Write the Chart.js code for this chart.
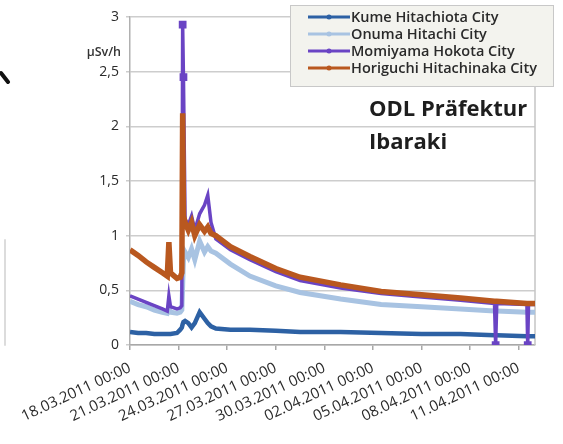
<!DOCTYPE html>
<html>
<head>
<meta charset="utf-8">
<script src="https://cdn.jsdelivr.net/npm/chart.js@4/dist/chart.umd.min.js"></script>
<style>
    html, body { margin: 0; padding: 0; background: #fff; }
    #wrap { width: 563px; height: 444px; }
</style>
</head>
<body>
<div id="wrap"><canvas id="odlChart" width="563" height="444"></canvas></div>
<script>
// days after 18.03.2011 00:00
const days = [0, 0.5, 1, 1.5, 2, 2.3, 2.4, 2.5, 2.9, 3.1, 3.2, 3.25, 3.3, 3.4, 3.6, 3.8, 4.0, 4.3, 4.6, 4.8, 5.0, 5.3,
    6.2, 7.4, 9, 10.5, 13, 15.5, 18, 20.4, 22.5, 22.57, 22.64, 24.5, 24.55, 24.6, 25];

const kume = [0.12, 0.11, 0.11, 0.10, 0.10, 0.10, 0.10, 0.10, 0.11, 0.14, 0.16, 0.19, 0.21, 0.22, 0.20, 0.16, 0.20, 0.30, 0.24, 0.20, 0.17, 0.15,
    0.14, 0.14, 0.13, 0.12, 0.12, 0.11, 0.10, 0.10, 0.09, 0.09, 0.09, 0.08, 0.08, 0.08, 0.08];
const onuma = [0.40, 0.37, 0.35, 0.32, 0.30, 0.29, 0.33, 0.30, 0.29, 0.30, 0.32, 0.55, 0.78, 0.85, 0.80, 0.88, 0.78, 0.95, 0.85, 0.90, 0.86, 0.84,
    0.74, 0.63, 0.54, 0.48, 0.42, 0.37, 0.35, 0.33, 0.31, 0.31, 0.31, 0.30, 0.30, 0.30, 0.30];
const momiyama = [0.45, 0.42, 0.39, 0.36, 0.33, 0.31, 0.45, 0.35, 0.33, 0.34, 0.36, 2.93, 2.45, 1.15, 1.10, 1.18, 1.05, 1.20, 1.28, 1.37, 1.12, 0.97,
    0.87, 0.78, 0.67, 0.59, 0.52, 0.47, 0.44, 0.41, 0.38, 0, 0.38, 0.37, 0, 0.37, 0.37];
const horiguchi = [0.87, 0.82, 0.76, 0.71, 0.66, 0.63, 0.94, 0.66, 0.61, 0.62, 0.66, 2.12, 1.18, 1.12, 1.05, 1.12, 1.00, 1.10, 1.04, 1.08, 1.02, 1.00,
    0.90, 0.81, 0.70, 0.62, 0.55, 0.49, 0.46, 0.43, 0.40, 0.40, 0.40, 0.38, 0.38, 0.38, 0.38];

const seriesNames = ['Kume Hitachiota City', 'Onuma Hitachi City', 'Momiyama Hokota City', 'Horiguchi Hitachinaka City'];
const seriesColors = ['#2d61a4', '#a8c3e2', '#6a44c4', '#b9581f'];

const xTickLabels = ['18.03.2011 00:00', '21.03.2011 00:00', '24.03.2011 00:00', '27.03.2011 00:00', '30.03.2011 00:00',
    '02.04.2011 00:00', '05.04.2011 00:00', '08.04.2011 00:00', '11.04.2011 00:00'];
const yTickLabels = ['0', '0,5', '1', '1,5', '2', '2,5', '3'];

const FONT = '"Open Sans", "Liberation Sans", sans-serif';

function toPoints(values) {
    return days.map((d, i) => ({ x: d, y: values[i] }));
}

// legend box, title text, plot border and the bits of the slide around the chart
const decorPlugin = {
    id: 'decor',
    beforeDatasetsDraw(chart) {
        const ctx = chart.ctx;
        const area = chart.chartArea;
        ctx.save();
        ctx.strokeStyle = '#c4c4c4';
        ctx.lineWidth = 1.5;
        ctx.beginPath();
        ctx.moveTo(area.right, area.top);
        ctx.lineTo(area.right, area.bottom);
        ctx.stroke();
        ctx.restore();
    },
    afterDraw(chart) {
        const ctx = chart.ctx;
        ctx.save();

        // unit label
        ctx.fillStyle = '#333';
        ctx.font = '600 12.5px ' + FONT;
        ctx.textAlign = 'right';
        ctx.textBaseline = 'middle';
        ctx.fillText('µSv/h', 121, 52);

        // legend
        ctx.fillStyle = '#f3f3ee';
        ctx.strokeStyle = '#c8c8c8';
        ctx.lineWidth = 1;
        ctx.fillRect(290, 5, 264, 82);
        ctx.strokeRect(290.5, 5.5, 263, 81);
        ctx.font = '600 14.5px ' + FONT;
        ctx.textAlign = 'left';
        chart.data.datasets.forEach((ds, i) => {
            const y = 17 + i * 17;
            ctx.strokeStyle = ds.borderColor;
            ctx.lineWidth = 3;
            ctx.beginPath();
            ctx.moveTo(308, y);
            ctx.lineTo(350, y);
            ctx.stroke();
            ctx.fillStyle = ds.borderColor;
            ctx.beginPath();
            ctx.arc(329, y, 2.5, 0, Math.PI * 2);
            ctx.fill();
            ctx.fillStyle = '#2a2a2a';
            ctx.fillText(ds.label, 351, y + 1);
        });

        // chart heading
        ctx.fillStyle = '#1e1e1e';
        ctx.font = 'bold 22px ' + FONT;
        ctx.fillText('ODL Präfektur', 369, 110);
        ctx.fillText('Ibaraki', 369, 143);

        // slide remnants on the left
        ctx.strokeStyle = '#111';
        ctx.lineWidth = 4;
        ctx.lineCap = 'round';
        ctx.beginPath();
        ctx.moveTo(1, 73);
        ctx.lineTo(8, 82);
        ctx.stroke();
        ctx.strokeStyle = '#dcdcdc';
        ctx.lineWidth = 2;
        ctx.beginPath();
        ctx.moveTo(5, 240);
        ctx.lineTo(5, 345);
        ctx.stroke();

        ctx.restore();
    }
};

const values = [kume, onuma, momiyama, horiguchi];
const widths = [4.5, 5, 3.5, 5.5];
const orders = [3, 2, 1, 0];

const datasets = values.map((v, i) => ({
    label: seriesNames[i],
    data: toPoints(v),
    borderColor: seriesColors[i],
    backgroundColor: seriesColors[i],
    borderWidth: widths[i],
    order: orders[i],
    tension: 0,
    pointRadius: i === 2 ? (c => (c.raw && (c.raw.y > 2 || c.raw.y === 0)) ? 3 : 0) : 0,
    pointStyle: 'rect'
}));

new Chart(document.getElementById('odlChart').getContext('2d'), {
    type: 'line',
    data: { datasets: datasets },
    plugins: [decorPlugin],
    options: {
        responsive: false,
        animation: false,
        layout: { padding: { left: 0, right: 28, top: 17, bottom: 0 } },
        plugins: {
            legend: { display: false },
            tooltip: { enabled: false }
        },
        scales: {
            x: {
                type: 'linear',
                min: 0,
                max: 25,
                afterBuildTicks: function(scale) {
                    scale.ticks = xTickLabels.map((label, i) => ({ value: i * 3 }));
                },
                afterFit: function(scale) { scale.height = 99; },
                ticks: {
                    autoSkip: false,
                    minRotation: 25,
                    maxRotation: 25,
                    padding: 9,
                    color: '#2a2a2a',
                    font: { family: FONT, size: 15 },
                    callback: function(value) { return xTickLabels[Math.round(value / 3)]; }
                },
                grid: { drawOnChartArea: false, tickLength: 5, color: '#a8a8a8', lineWidth: 1.5 },
                border: { color: '#a8a8a8', width: 1.5 }
            },
            y: {
                min: 0,
                max: 3,
                afterFit: function(scale) { scale.width = 130; },
                ticks: {
                    stepSize: 0.5,
                    padding: 7,
                    color: '#2a2a2a',
                    font: { family: FONT, size: 14 },
                    callback: function(value) { return yTickLabels[Math.round(value * 2)]; }
                },
                grid: { color: '#cdcdcd', lineWidth: 1.5, tickLength: 4 },
                border: { color: '#b0b0b0', width: 1.5 }
            }
        }
    }
});
</script>
</body>
</html>
